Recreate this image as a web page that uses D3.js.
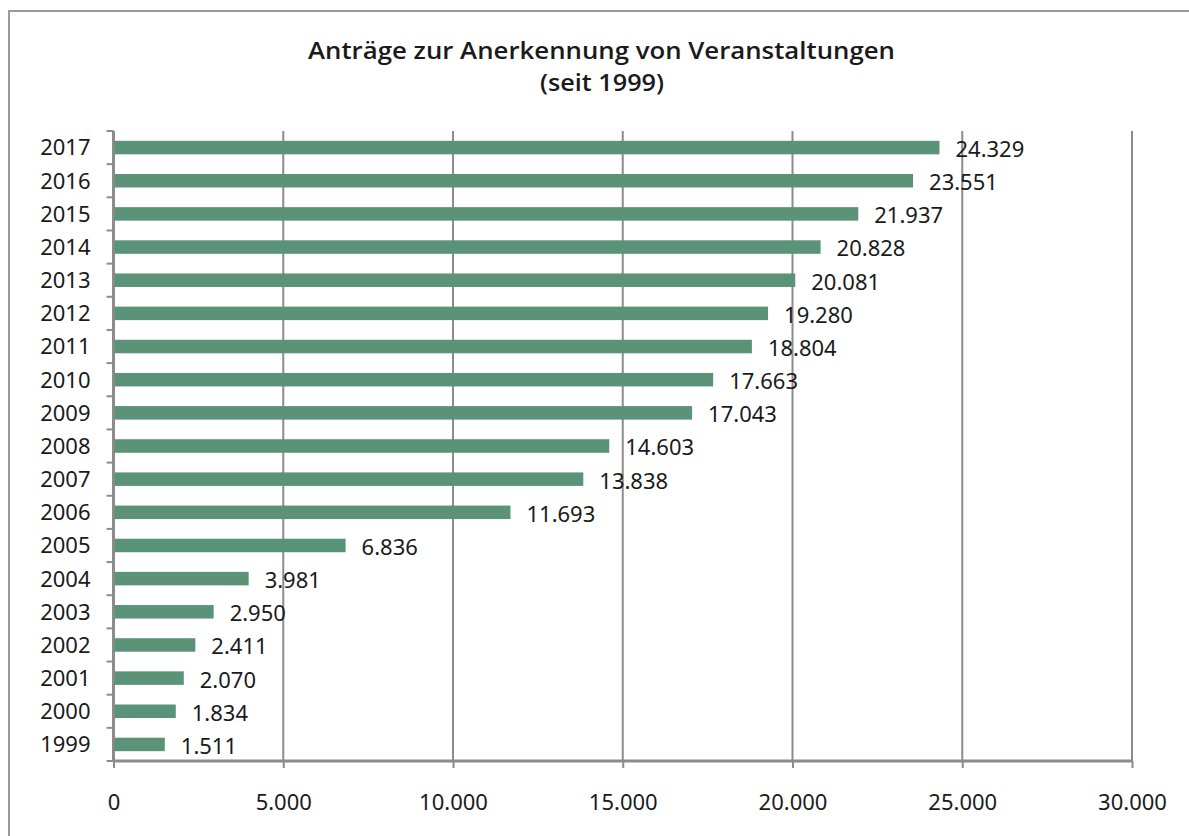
<!DOCTYPE html>
<html><head><meta charset="utf-8">
<script src="https://cdn.jsdelivr.net/npm/d3@7"></script>
<style>html,body{margin:0;padding:0;background:#fff;overflow:hidden}</style>
</head><body>
<svg id="c" width="1189" height="836"></svg>
<script>
const years = ["1999","2000","2001","2002","2003","2004","2005","2006","2007","2008","2009","2010","2011","2012","2013","2014","2015","2016","2017"];
const values = [1511,1834,2070,2411,2950,3981,6836,11693,13838,14603,17043,17663,18804,19280,20081,20828,21937,23551,24329];
const xTicks = [0,5000,10000,15000,20000,25000,30000];
const titleLines = ["Anträge zur Anerkennung von Veranstaltungen","(seit 1999)"];

(function(){
const fmt = d3.formatLocale({decimal:",", thousands:".", grouping:[3], currency:["","€"]}).format(",d");
const svg = d3.select("#c");
const font = "'Noto Sans', sans-serif";
const gridColor = "#8c8c8c";

// outer frame
svg.append("rect").attr("x",9).attr("y",11).attr("width",1200).attr("height",900)
  .attr("fill","none").attr("stroke","#9a9a9a").attr("stroke-width",2);

const pL = 113.5, pR = 1132, pT = 131, pB = 761;
const x = d3.scaleLinear().domain([0,30000]).range([pL,pR]);
const y = d3.scaleBand().domain(years.slice().reverse()).range([pT,pB]);

// title
const tg = svg.append("g").attr("font-family","'Open Sans', sans-serif")
  .attr("font-weight",600).attr("fill","#1a1a1a").attr("font-size",23).attr("text-anchor","middle");
tg.append("text").attr("x",601.5).attr("y",59).text(titleLines[0]).attr("textLength",587).attr("lengthAdjust","spacingAndGlyphs");
tg.append("text").attr("x",602).attr("y",91).text(titleLines[1]).attr("textLength",124).attr("lengthAdjust","spacingAndGlyphs");

// grid lines
svg.append("g").selectAll("line").data(xTicks.slice(1)).join("line")
  .attr("x1",d=>x(d)).attr("x2",d=>x(d)).attr("y1",pT).attr("y2",pB)
  .attr("stroke",gridColor).attr("stroke-width",2);

// x axis
const xg = svg.append("g").attr("transform",`translate(0,${pB})`)
  .call(d3.axisBottom(x).tickValues(xTicks).tickFormat(fmt).tickSize(7).tickPadding(26));
xg.select(".domain").attr("stroke",gridColor).attr("stroke-width",3).attr("d",`M${pL},0H${pR}`);
xg.selectAll(".tick line").attr("stroke",gridColor).attr("stroke-width",2);
xg.selectAll("text").attr("font-family",font).attr("font-size",22).attr("fill","#1a1a1a");

// y axis
const yg = svg.append("g").attr("transform",`translate(${pL},0)`);
yg.append("line").attr("x1",0).attr("x2",0).attr("y1",pT).attr("y2",pB).attr("stroke",gridColor).attr("stroke-width",3);
const bounds = years.map(d=>y(d)).concat([pB]);
yg.selectAll("line.tk").data(bounds).join("line").attr("class","tk")
  .attr("x1",-7).attr("x2",0).attr("y1",d=>d).attr("y2",d=>d).attr("stroke",gridColor).attr("stroke-width",2);
const cy = d => y(d) + y.bandwidth()/2;
yg.selectAll("text").data(years).join("text")
  .attr("x",-23).attr("y",d=>cy(d)).attr("dy","0.36em").attr("text-anchor","end")
  .attr("font-family",font).attr("font-size",22).attr("fill","#1a1a1a").text(d=>d);

// bars
const bh = 13.5;
svg.append("g").selectAll("rect").data(years).join("rect")
  .attr("x",x(0)+1).attr("y",d=>cy(d)-bh/2).attr("width",(d,i)=>x(values[i])-x(0)-1).attr("height",bh)
  .attr("fill","#5b9379");

// value labels
svg.append("g").selectAll("text").data(years).join("text")
  .attr("x",(d,i)=>x(values[i])+16).attr("y",d=>cy(d)+1.5).attr("dy","0.36em")
  .attr("font-family",font).attr("font-size",22).attr("fill","#1a1a1a").text((d,i)=>fmt(values[i]));
})();
</script>
</body></html>
